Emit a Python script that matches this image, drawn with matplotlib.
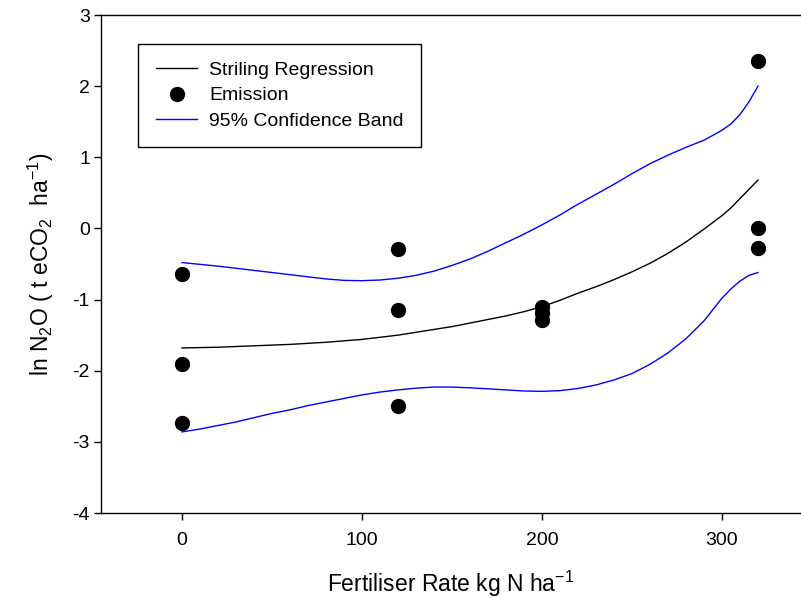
import matplotlib
matplotlib.use("Agg")
import matplotlib.pyplot as plt

plt.rcParams["font.family"] = ["Liberation Sans", "DejaVu Sans"]
plt.rcParams["mathtext.default"] = "regular"
plt.rcParams["axes.unicode_minus"] = False

# emission measurements (fertiliser rate, ln N2O)
rate_pts = [0, 0, 0, 120, 120, 120, 200, 200, 200, 320, 320, 320]
emission = [-0.64, -1.90, -2.73, -0.29, -1.15, -2.50, -1.11, -1.19, -1.29, 2.36, 0.0, -0.27]

# fitted curve and confidence band
rate_fit = [0, 10, 20, 30, 40, 50, 60, 70, 80, 90, 100, 110, 120, 130, 140, 150, 160,
            170, 180, 190, 200, 210, 220, 230, 240, 250, 260, 270, 280, 290, 300,
            305, 310, 315, 320]
fit = [-1.68, -1.675, -1.67, -1.66, -1.65, -1.64, -1.63, -1.615, -1.60, -1.58, -1.56,
       -1.53, -1.50, -1.46, -1.42, -1.38, -1.33, -1.28, -1.23, -1.17, -1.10,
       -1.01, -0.91, -0.82, -0.72, -0.61, -0.49, -0.35, -0.19, -0.01, 0.18,
       0.29, 0.42, 0.55, 0.68]
band_hi = [-0.48, -0.505, -0.53, -0.56, -0.59, -0.62, -0.65, -0.68, -0.71, -0.73, -0.735,
           -0.725, -0.70, -0.66, -0.60, -0.52, -0.43, -0.32, -0.20, -0.08, 0.05,
           0.19, 0.34, 0.48, 0.62, 0.77, 0.91, 1.03, 1.14, 1.24, 1.38,
           1.47, 1.60, 1.78, 2.0]
band_lo = [-2.86, -2.82, -2.77, -2.72, -2.66, -2.60, -2.55, -2.49, -2.44, -2.39, -2.34,
           -2.30, -2.27, -2.245, -2.23, -2.23, -2.24, -2.255, -2.27, -2.285, -2.29,
           -2.28, -2.25, -2.20, -2.13, -2.04, -1.91, -1.75, -1.55, -1.30, -0.98,
           -0.85, -0.74, -0.66, -0.62]


def main() -> None:
    fig = plt.figure(figsize=(8.01, 5.98), dpi=100)
    ax = fig.add_axes([101 / 801, 85 / 598, 700 / 801, 498 / 598])

    ax.plot(rate_fit, fit, color="black", lw=1.0, label="Striling Regression")
    ax.plot(rate_pts, emission, "o", color="black", ms=10, label="Emission")
    ax.plot(rate_fit, band_hi, color="#0000ff", lw=1.0, label="95% Confidence Band")
    ax.plot(rate_fit, band_lo, color="#0000ff", lw=1.0)

    ax.set_xlim(-45, 343.9)
    ax.set_ylim(-4, 3)
    ax.set_xticks([0, 100, 200, 300])
    ax.set_yticks(range(-4, 4))
    ax.spines["right"].set_visible(False)
    for s in ax.spines.values():
        s.set_linewidth(1.0)
    ax.tick_params(direction="out", length=5, width=1.0, labelsize=14)
    ax.tick_params(axis="x", pad=9)
    ax.tick_params(axis="y", pad=3)

    ax.set_xlabel("Fertiliser Rate kg N ha$^{-1}$", fontsize=16.5, labelpad=14)
    ax.set_ylabel("ln N$_2$O ( t eCO$_2$  ha$^{-1}$)", fontsize=16.5, labelpad=12)

    leg = ax.legend(loc="upper left", bbox_to_anchor=(0.053, 0.942), borderaxespad=0,
                    fontsize=14, fancybox=False, edgecolor="black", framealpha=1,
                    handlelength=2.15, handletextpad=0.6, borderpad=0.9,
                    labelspacing=0.4)
    leg.get_frame().set_linewidth(1.0)

    fig.savefig("out.png", dpi=100)


if __name__ == "__main__":
    main()
